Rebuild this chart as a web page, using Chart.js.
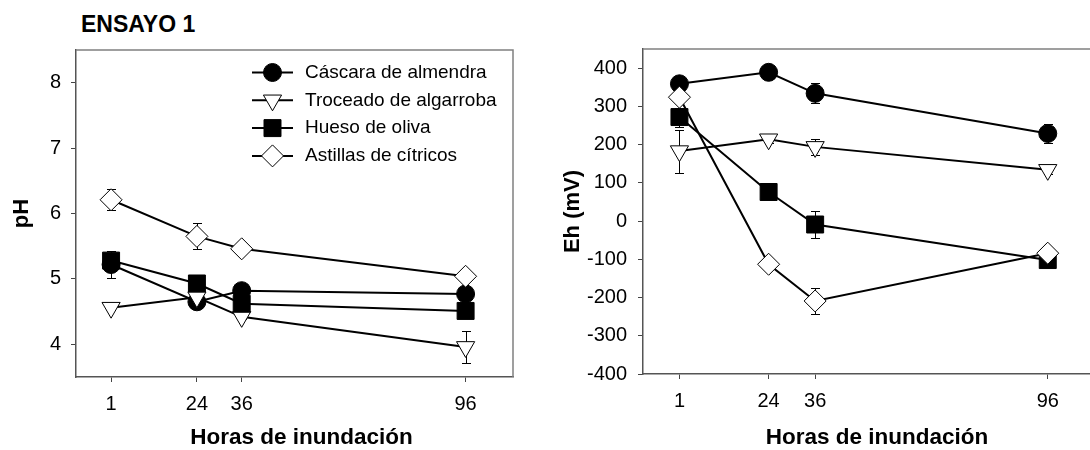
<!DOCTYPE html>
<html>
<head>
<meta charset="utf-8">
<script src="https://cdn.jsdelivr.net/npm/chart.js@4/dist/chart.umd.min.js"></script>
<style>
  html, body { margin: 0; padding: 0; background: #fff; overflow: hidden; }
  body { width: 1090px; height: 450px; position: relative; font-family: "Liberation Sans", Arial, sans-serif; }
  #title { position: absolute; left: 81px; top: 13px; font-size: 23px; line-height: 23px; font-weight: bold; color: #000; }
  #left { position: absolute; left: 0; top: 0; width: 540px; height: 450px; }
  #right { position: absolute; left: 540px; top: 0; width: 570px; height: 450px; }
</style>
</head>
<body>
<div id="title">ENSAYO 1</div>
<div id="left"><canvas id="ph" width="540" height="450"></canvas></div>
<div id="right"><canvas id="eh" width="570" height="450"></canvas></div>
<script>
// hours of flooding
const hours = [1, 24, 36, 96];
const seriesNames = ['Cáscara de almendra', 'Troceado de algarroba', 'Hueso de oliva', 'Astillas de cítricos'];
const xTitle = 'Horas de inundación';

// pH
const phCascara = [5.22, 4.65, 4.82, 4.77];
const phTroceado = [4.56, 4.72, 4.42, 3.96];
const phHueso = [5.28, 4.93, 4.62, 4.51];
const phAstillas = [6.21, 5.65, 5.46, 5.04];
const phErrCascara = [0.2, 0.04, 0.05, 0.05];
const phErrTroceado = [0.03, 0.04, 0.04, 0.24];
const phErrHueso = [0.15, 0.04, 0.04, 0.04];
const phErrAstillas = [0.16, 0.2, 0.04, 0.04];
const phTicks = [4, 5, 6, 7, 8];

// Eh (mV)
const ehCascara = [359, 389, 334, 229];
const ehTroceado = [183, 214, 194, 134];
const ehHueso = [272, 76, -9, -102];
const ehAstillas = [324, -113, -209, -84];
const ehErrCascara = [10, 10, 26, 25];
const ehErrTroceado = [56, 10, 20, 10];
const ehErrHueso = [25, 10, 35, 10];
const ehErrAstillas = [10, 10, 34, 10];
const ehTicks = [-400, -300, -200, -100, 0, 100, 200, 300, 400];

const FONT = '"Liberation Sans", Arial, sans-serif';

const markers = [
  {pointStyle: 'circle', pointRadius: 9, pointRotation: 0, pointBackgroundColor: '#000'},
  {pointStyle: 'triangle', pointRadius: 10.5, pointRotation: 180, pointBackgroundColor: '#fff'},
  {pointStyle: 'rect', pointRadius: 12, pointRotation: 0, pointBackgroundColor: '#000'},
  {pointStyle: 'rectRot', pointRadius: 11, pointRotation: 0, pointBackgroundColor: '#fff'},
];

function buildDatasets(series, errors) {
  return series.map((vals, i) => Object.assign({
    label: seriesNames[i],
    data: vals.map((v, j) => ({x: hours[j], y: v})),
    errors: errors[i],
    borderColor: '#000',
    borderWidth: 2,
    pointBorderColor: '#000',
    pointBorderWidth: 1,
    pointHoverRadius: 0,
    tension: 0,
    order: 4 - i,
  }, markers[i]));
}

const errorBars = {
  id: 'errorBars',
  beforeDatasetDraw(chart, args) {
    const ds = chart.data.datasets[args.index];
    const xs = chart.scales.x, ys = chart.scales.y;
    const ctx = chart.ctx;
    ctx.save();
    ctx.strokeStyle = '#000';
    ctx.lineWidth = 1;
    ds.data.forEach((p, i) => {
      const e = ds.errors[i];
      const px = Math.round(xs.getPixelForValue(p.x)) + 0.5;
      const top = Math.round(ys.getPixelForValue(p.y + e)) + 0.5;
      const bot = Math.round(ys.getPixelForValue(p.y - e)) + 0.5;
      ctx.beginPath();
      ctx.moveTo(px, top); ctx.lineTo(px, bot);
      ctx.moveTo(px - 4.5, top); ctx.lineTo(px + 4.5, top);
      ctx.moveTo(px - 4.5, bot); ctx.lineTo(px + 4.5, bot);
      ctx.stroke();
    });
    ctx.restore();
  }
};

// gray top/right frame plus the x axis title
const frame = {
  id: 'frame',
  beforeDatasetsDraw(chart) {
    const a = chart.chartArea, ctx = chart.ctx;
    ctx.save();
    ctx.strokeStyle = '#808080';
    ctx.lineWidth = 1.5;
    ctx.beginPath();
    ctx.moveTo(a.left, a.top);
    ctx.lineTo(a.right, a.top);
    ctx.lineTo(a.right, a.bottom);
    ctx.stroke();
    ctx.fillStyle = '#000';
    ctx.font = 'bold 22.5px ' + FONT;
    ctx.textAlign = 'center';
    ctx.textBaseline = 'middle';
    ctx.fillText(xTitle, (a.left + a.right) / 2 + 7, 438);
    ctx.restore();
  }
};

// legend with a line through each marker
const lineLegend = {
  id: 'lineLegend',
  afterDraw(chart) {
    const ctx = chart.ctx;
    const left = 252, len = 41, top = 72.5, gap = 27.8, textX = 305;
    chart.data.datasets.forEach((ds, i) => {
      const y = top + i * gap;
      ctx.save();
      ctx.strokeStyle = '#000';
      ctx.lineWidth = 2;
      ctx.beginPath();
      ctx.moveTo(left, y);
      ctx.lineTo(left + len, y);
      ctx.stroke();
      ctx.fillStyle = ds.pointBackgroundColor;
      ctx.lineWidth = 1;
      Chart.helpers.drawPoint(ctx, {
        pointStyle: ds.pointStyle, radius: ds.pointRadius, rotation: ds.pointRotation, borderWidth: 1
      }, left + len / 2, y);
      ctx.fillStyle = '#000';
      ctx.font = '19px ' + FONT;
      ctx.textBaseline = 'middle';
      ctx.textAlign = 'left';
      ctx.fillText(ds.label, textX, y);
      ctx.restore();
    });
  }
};

function makeChart(id, datasets, yMin, yMax, yTicks, yTitle, lay, extraPlugins) {
  return new Chart(document.getElementById(id), {
    type: 'line',
    data: {datasets},
    options: {
      responsive: false,
      animation: false,
      events: [],
      layout: {padding: {top: lay.top, right: lay.right, left: 0, bottom: 0}},
      plugins: {legend: {display: false}, tooltip: {enabled: false}},
      scales: {
        x: {
          type: 'linear',
          min: -8.4,
          max: 108.7,
          afterBuildTicks: s => { s.ticks = hours.map(v => ({value: v})); },
          afterFit: s => { s.height = lay.xHeight; },
          grid: {drawOnChartArea: false, drawTicks: true, tickLength: 5, color: '#444', tickColor: '#444'},
          border: {display: true, color: '#555', width: 1.5},
          ticks: {color: '#000', font: {family: FONT, size: 20}, padding: 10, maxRotation: 0, autoSkip: false}
        },
        y: {
          type: 'linear',
          min: yMin,
          max: yMax,
          afterBuildTicks: s => { s.ticks = yTicks.map(v => ({value: v})); },
          afterFit: s => { s.width = lay.yWidth; },
          grid: {drawOnChartArea: false, drawTicks: true, tickLength: 5, color: '#444', tickColor: '#444'},
          border: {display: true, color: '#555', width: 1.5},
          ticks: {color: '#000', font: {family: FONT, size: 20}, padding: lay.tickPad},
          title: {display: true, text: yTitle, color: '#000',
                  font: {family: FONT, size: 22, weight: 'bold'}, padding: {top: lay.titlePad, bottom: 0}}
        }
      }
    },
    plugins: [frame, errorBars].concat(extraPlugins)
  });
}

makeChart('ph',
  buildDatasets([phCascara, phTroceado, phHueso, phAstillas],
                [phErrCascara, phErrTroceado, phErrHueso, phErrAstillas]),
  3.5, 8.5, phTicks, 'pH',
  {top: 50, right: 27, xHeight: 73, yWidth: 76, tickPad: 10, titlePad: 8.5},
  [lineLegend]);

makeChart('eh',
  buildDatasets([ehCascara, ehTroceado, ehHueso, ehAstillas],
                [ehErrCascara, ehErrTroceado, ehErrHueso, ehErrAstillas]),
  -400, 450, ehTicks, 'Eh (mV)',
  {top: 49, right: 10, xHeight: 76, yWidth: 103, tickPad: 11, titlePad: 20},
  []);
</script>
</body>
</html>
